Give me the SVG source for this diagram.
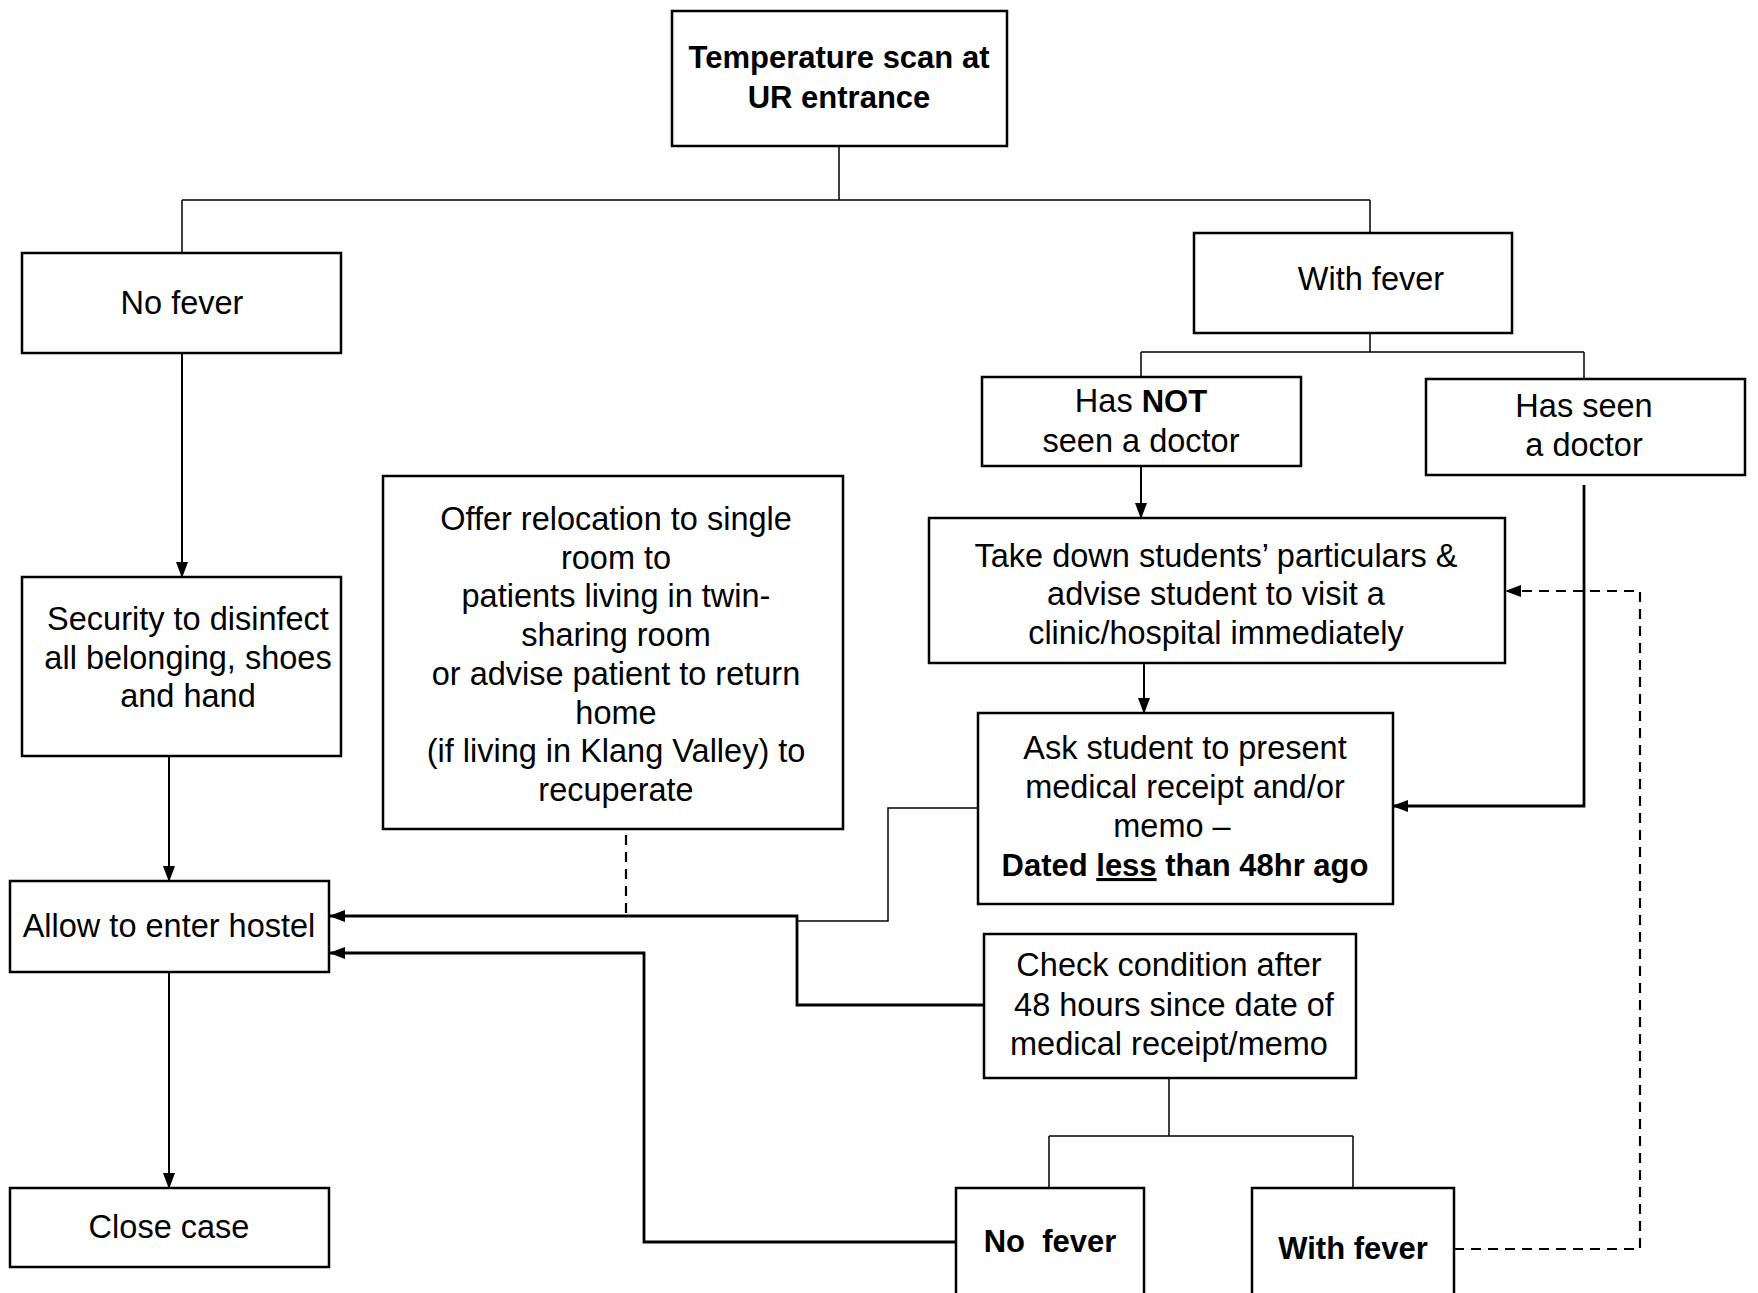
<svg xmlns="http://www.w3.org/2000/svg" width="1758" height="1293" viewBox="0 0 1758 1293">
<style>
.box{fill:#fff;stroke:#000;stroke-width:2.5}
.t{font-family:"Liberation Sans",Arial,sans-serif;font-size:32.5px;fill:#000;text-anchor:middle}
.b{font-weight:bold;font-size:31px}
.thin{fill:none;stroke:#000;stroke-width:1.5}
.med{fill:none;stroke:#000;stroke-width:2}
.thick{fill:none;stroke:#000;stroke-width:2.8}
.dash{fill:none;stroke:#000;stroke-width:2.2;stroke-dasharray:10,7}
</style>
<defs>
<marker id="arr" markerUnits="userSpaceOnUse" markerWidth="16" markerHeight="14" viewBox="0 0 16 14" refX="15" refY="7" orient="auto">
<path d="M0,1 L16,7 L0,13 Z" fill="#000"/>
</marker>
</defs>
<rect width="1758" height="1293" fill="#fff"/>
<g id="connectors">
<path class="thin" d="M839,146 V200 M182,200 H1370 M182,200 V253 M1370,200 V233"/>
<path class="thin" d="M1370,333 V352 M1141,352 H1584 M1141,352 V377 M1584,352 V379"/>
<path class="med" d="M182,353 V577" marker-end="url(#arr)"/>
<path class="med" d="M169,756 V881" marker-end="url(#arr)"/>
<path class="med" d="M169,972 V1188" marker-end="url(#arr)"/>
<path class="med" d="M1141,466 V518" marker-end="url(#arr)"/>
<path class="med" d="M1144,663 V713" marker-end="url(#arr)"/>
<path class="thick" d="M1584,485 V806 H1393" marker-end="url(#arr)"/>
<path class="thin" d="M978,808 H888 V921 H797"/>
<path class="thick" d="M984,1005 H797 V916 H330" marker-end="url(#arr)"/>
<path class="dash" d="M626,835 V916 H333"/>
<path class="thick" d="M956,1242 H644 V953 H330" marker-end="url(#arr)"/>
<path class="dash" d="M1454,1249 H1640 V591 H1509"/>
<path d="M1505,591 L1521,585 L1521,597 Z" fill="#000"/>
<path class="thin" d="M1169,1078 V1136 M1049,1136 H1353 M1049,1136 V1188 M1353,1136 V1188"/>
</g>
<g id="temp-scan">
<rect class="box" x="672" y="11" width="335" height="135"/>
<text class="t b" x="839" y="68">Temperature scan at</text>
<text class="t b" x="839" y="108">UR entrance</text>
</g>
<g id="no-fever">
<rect class="box" x="22" y="253" width="319" height="100"/>
<text class="t" x="182" y="314">No fever</text>
</g>
<g id="with-fever">
<rect class="box" x="1194" y="233" width="318" height="100"/>
<text class="t" x="1371" y="290">With fever</text>
</g>
<g id="has-not-seen">
<rect class="box" x="982" y="377" width="319" height="89"/>
<text class="t" x="1141" y="412">Has <tspan class="b">NOT</tspan></text>
<text class="t" x="1141" y="452">seen a doctor</text>
</g>
<g id="has-seen">
<rect class="box" x="1426" y="379" width="319" height="96"/>
<text class="t" x="1584" y="417">Has seen</text>
<text class="t" x="1584" y="456">a doctor</text>
</g>
<g id="take-down">
<rect class="box" x="929" y="518" width="576" height="145"/>
<text class="t" x="1216" y="567">Take down students’ particulars &amp;</text>
<text class="t" x="1216" y="605">advise student to visit a</text>
<text class="t" x="1216" y="644">clinic/hospital immediately</text>
</g>
<g id="ask-student">
<rect class="box" x="978" y="713" width="415" height="191"/>
<text class="t" x="1185" y="759">Ask student to present</text>
<text class="t" x="1185" y="798">medical receipt and/or</text>
<text class="t" x="1172" y="837">memo –</text>
<text class="t b" x="1185" y="876">Dated <tspan text-decoration="underline">less</tspan> than 48hr ago</text>
</g>
<g id="offer-relocation">
<rect class="box" x="383" y="476" width="460" height="353"/>
<text class="t" x="616" y="530">Offer relocation to single</text>
<text class="t" x="616" y="569">room to</text>
<text class="t" x="616" y="607">patients living in twin-</text>
<text class="t" x="616" y="646">sharing room</text>
<text class="t" x="616" y="685">or advise patient to return</text>
<text class="t" x="616" y="724">home</text>
<text class="t" x="616" y="762">(if living in Klang Valley) to</text>
<text class="t" x="616" y="801">recuperate</text>
</g>
<g id="security">
<rect class="box" x="22" y="577" width="319" height="179"/>
<text class="t" x="188" y="630">Security to disinfect</text>
<text class="t" x="188" y="669">all belonging, shoes</text>
<text class="t" x="188" y="707">and hand</text>
</g>
<g id="allow-hostel">
<rect class="box" x="10" y="881" width="319" height="91"/>
<text class="t" x="169" y="937">Allow to enter hostel</text>
</g>
<g id="close-case">
<rect class="box" x="10" y="1188" width="319" height="79"/>
<text class="t" x="169" y="1238">Close case</text>
</g>
<g id="check-condition">
<rect class="box" x="984" y="934" width="372" height="144"/>
<text class="t" x="1169" y="976">Check condition after</text>
<text class="t" x="1174" y="1016">48 hours since date of</text>
<text class="t" x="1169" y="1055">medical receipt/memo</text>
</g>
<g id="no-fever-2">
<rect class="box" x="956" y="1188" width="188" height="120"/>
<text class="t b" x="1050" y="1252" xml:space="preserve">No  fever</text>
</g>
<g id="with-fever-2">
<rect class="box" x="1252" y="1188" width="202" height="120"/>
<text class="t b" x="1353" y="1259">With fever</text>
</g>
</svg>
